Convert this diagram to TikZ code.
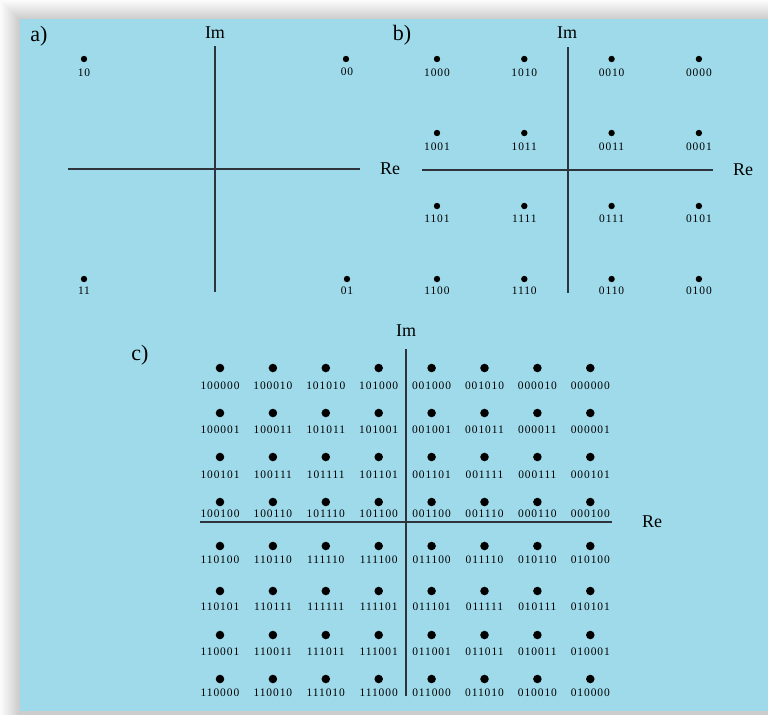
\documentclass[tikz,border=0pt]{standalone}
\usepackage{fontspec}
\setmainfont{Liberation Serif}
\newfontfamily\bitsfont[LetterSpace=8]{Liberation Serif}
\definecolor{skyback}{RGB}{158,218,234}
\definecolor{axisgray}{RGB}{45,52,60}
\begin{document}
\begin{tikzpicture}[x=0.75pt,y=-0.75pt,
  axis/.style={axisgray,line width=1.1pt},
  dot/.style={circle,fill=black,inner sep=0pt,minimum size=4.8pt},
  bigdot/.style={dot,minimum size=6.4pt},
  bits/.style={font=\bitsfont\fontsize{8.6}{9}\selectfont,inner sep=0pt},
  axlabel/.style={font=\fontsize{13.5}{15}\selectfont,inner sep=0pt,anchor=base},
  part/.style={font=\fontsize{16.5}{18}\selectfont,inner sep=0pt}]
  \useasboundingbox (0,0) rectangle (768,715);
  % grey frame and blue panel
  \fill[white] (0,0) rectangle (768,715);
  \foreach \k in {0,...,9}
    \fill[gray!\the\numexpr 3+4*\k\relax] (2*\k,2*\k) rectangle (768,715);
  \fill[skyback] (20,19) rectangle (768,711);

  % a) QPSK
  \node[part] (pa) at (39,36) {a)};
  \draw[axis] (215,46) -- (215,292);
  \draw[axis] (68,169) -- (360,169);
  \node[axlabel] (ima) at (215,38) {Im};
  \node[axlabel] (rea) at (390,174) {Re};
  \node[dot] (a10) at (84,59) {};   \node[bits] (la10) at (84,73) {10};
  \node[dot] (a00) at (346,59) {};  \node[bits] (la00) at (347,72) {00};
  \node[dot] (a11) at (84,279) {};  \node[bits] (la11) at (84,291) {11};
  \node[dot] (a01) at (347,279) {}; \node[bits] (la01) at (347,291) {01};

  % b) 16-QAM
  \node[part] (pb) at (402,35) {b)};
  \draw[axis] (568,47) -- (568,293);
  \draw[axis] (422,170) -- (713,170);
  \node[axlabel] (imb) at (567,38) {Im};
  \node[axlabel] (reb) at (743,175) {Re};
  \foreach \dy/\ly/\row [count=\r] in {59/73/{1000,1010,0010,0000},
      133/147/{1001,1011,0011,0001},
      206/219/{1101,1111,0111,0101},
      279/291/{1100,1110,0110,0100}}
    \foreach \w [count=\c] in \row {
      \node[dot] (b-\r-\c) at ({437+87.3*(\c-1)},\dy) {};
      \node[bits] (lb-\r-\c) at ({437+87.3*(\c-1)},\ly) {\w};
    }

  % c) 64-QAM
  \node[part] (pc) at (140,355) {c)};
  \draw[axis] (406,349) -- (406,696);
  \draw[axis] (200,522) -- (612,522);
  \node[axlabel] (imc) at (406,336) {Im};
  \node[axlabel] (rec) at (652,527) {Re};
  \foreach \dy/\ly/\row [count=\r] in {
      368/386/{100000,100010,101010,101000,001000,001010,000010,000000},
      413/430/{100001,100011,101011,101001,001001,001011,000011,000001},
      457/475/{100101,100111,101111,101101,001101,001111,000111,000101},
      502/514/{100100,100110,101110,101100,001100,001110,000110,000100},
      546/560/{110100,110110,111110,111100,011100,011110,010110,010100},
      591/607/{110101,110111,111111,111101,011101,011111,010111,010101},
      635/652/{110001,110011,111011,111001,011001,011011,010011,010001},
      679/693/{110000,110010,111010,111000,011000,011010,010010,010000}}
    \foreach \w [count=\c] in \row {
      \node[bigdot] (c-\r-\c) at ({220+52.9*(\c-1)},\dy) {};
      \node[bits] (lc-\r-\c) at ({220+52.9*(\c-1)},\ly) {\w};
    }
\end{tikzpicture}
\end{document}
